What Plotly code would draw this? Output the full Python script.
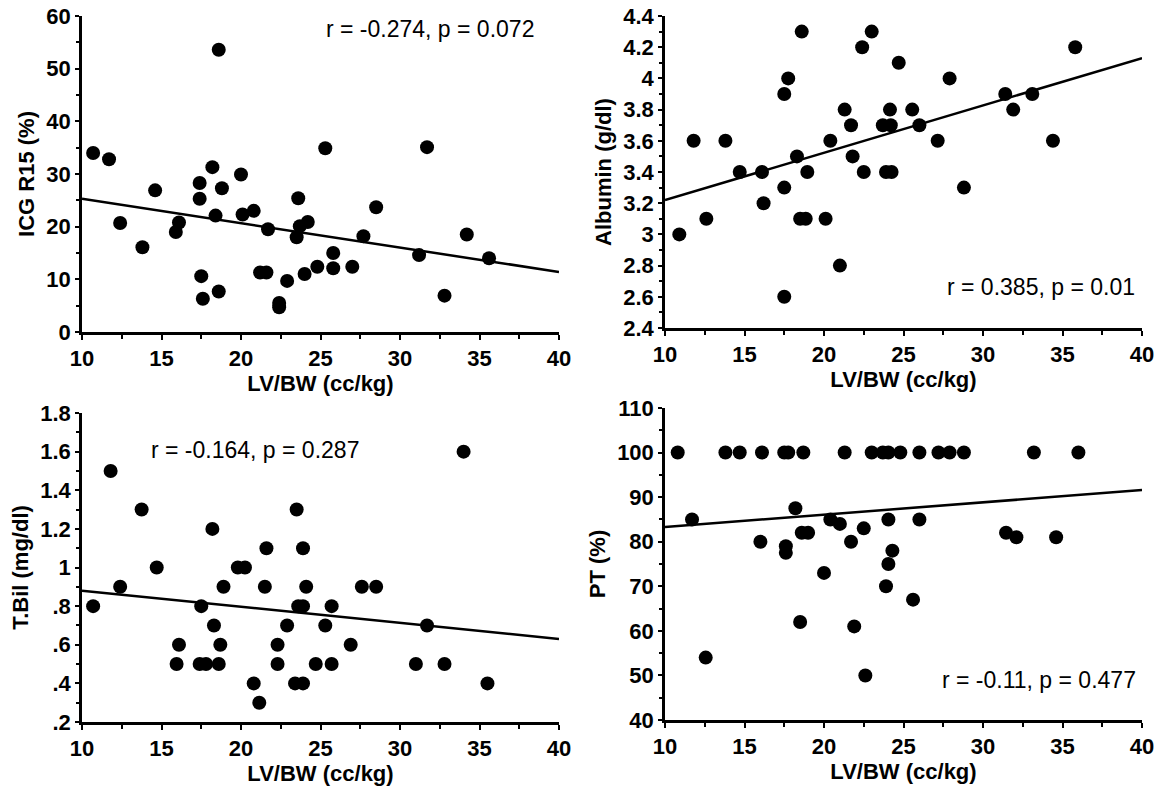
import plotly.graph_objects as go

# LV/BW (cc/kg) vs ICG R15 (%)
icg_x = [10.7, 11.7, 12.4, 13.8, 14.6, 16.1, 15.9, 17.4, 17.4, 17.5, 17.6, 18.2, 18.6, 18.8,
         18.4, 18.6, 20.0, 20.1, 20.8, 21.7, 21.2, 21.6, 22.4, 22.4, 22.9, 23.6, 23.5, 23.7,
         24.2, 24.0, 24.8, 25.3, 25.8, 25.8, 27.0, 27.7, 28.5, 31.2, 31.7, 32.8, 34.2, 35.6]
icg_y = [34.0, 32.8, 20.7, 16.1, 26.9, 20.8, 19.0, 28.3, 25.3, 10.6, 6.3, 31.3, 53.6, 27.3,
         22.1, 7.7, 29.9, 22.3, 23.0, 19.5, 11.3, 11.3, 5.5, 4.7, 9.7, 25.4, 18.0, 20.1,
         20.9, 11.0, 12.4, 34.9, 15.0, 12.1, 12.4, 18.2, 23.7, 14.6, 35.1, 6.9, 18.5, 14.0]
icg_fit = [25.3, 11.4]

# LV/BW vs Albumin (g/dl)
alb_x = [10.9, 11.8, 12.6, 13.8, 14.7, 16.1, 16.2, 17.5, 17.75, 17.5, 17.5, 18.3, 18.6, 18.95,
         18.5, 18.85, 20.1, 20.4, 21.0, 21.3, 21.7, 21.8, 22.4, 23.0, 22.5, 23.7, 24.2, 23.9,
         24.25, 24.15, 24.7, 25.55, 26.0, 27.9, 27.15, 28.8, 31.4, 31.9, 33.1, 34.4, 35.8]
alb_y = [3.0, 3.6, 3.1, 3.6, 3.4, 3.4, 3.2, 3.9, 4.0, 3.3, 2.6, 3.5, 4.3, 3.4,
         3.1, 3.1, 3.1, 3.6, 2.8, 3.8, 3.7, 3.5, 4.2, 4.3, 3.4, 3.7, 3.7, 3.4,
         3.4, 3.8, 4.1, 3.8, 3.7, 4.0, 3.6, 3.3, 3.9, 3.8, 3.9, 3.6, 4.2]
alb_fit = [3.22, 4.13]

# LV/BW vs T.Bil (mg/dl)
bil_x = [10.7, 11.8, 12.4, 13.75, 14.7, 16.1, 15.95, 17.5, 17.4, 17.8, 18.2, 18.3, 18.7, 18.6,
         18.9, 19.8, 20.25, 20.8, 21.15, 21.6, 21.5, 22.3, 22.3, 22.9, 23.5, 23.9, 24.1, 23.6,
         23.9, 23.4, 23.9, 24.7, 25.3, 25.7, 25.7, 26.9, 27.6, 28.5, 31.0, 31.7, 32.8, 34.0, 35.5]
bil_y = [0.8, 1.5, 0.9, 1.3, 1.0, 0.6, 0.5, 0.8, 0.5, 0.5, 1.2, 0.7, 0.6, 0.5,
         0.9, 1.0, 1.0, 0.4, 0.3, 1.1, 0.9, 0.6, 0.5, 0.7, 1.3, 1.1, 0.9, 0.8,
         0.8, 0.4, 0.4, 0.5, 0.7, 0.8, 0.5, 0.6, 0.9, 0.9, 0.5, 0.7, 0.5, 1.6, 0.4]
bil_fit = [0.88, 0.63]

# LV/BW vs PT (%)
pt_x = [10.8, 11.7, 12.56, 13.8, 14.7, 16.1, 16.0, 17.5, 17.75, 17.6, 17.6, 18.7, 18.2, 18.5,
        18.6, 19.0, 20.0, 20.4, 21.0, 21.3, 21.7, 21.9, 22.5, 22.6, 23.0, 23.7, 24.05, 24.05,
        24.3, 24.05, 23.9, 24.8, 26.0, 27.2, 27.9, 28.8, 33.2, 36.0, 26.0, 25.6, 31.45, 32.1, 34.6]
pt_y = [100, 85, 54, 100, 100, 100, 80, 100, 100, 79, 77.5, 100, 87.5, 62,
        82, 82, 73, 85, 84, 100, 80, 61, 83, 50, 100, 100, 100, 85,
        78, 75, 70, 100, 100, 100, 100, 100, 100, 100, 85, 67, 82, 81, 81]
pt_fit = [83.3, 91.6]

fit_x = [10, 40]

bil_ticks = [0.2, 0.4, 0.6, 0.8, 1.0, 1.2, 1.4, 1.6, 1.8]
bil_labels = [".2", ".4", ".6", ".8", "1", "1.2", "1.4", "1.6", "1.8"]

FONT = "Liberation Sans"

fig = go.Figure()

panels = [
    ("x", "y", icg_x, icg_y, icg_fit),
    ("x2", "y2", alb_x, alb_y, alb_fit),
    ("x3", "y3", bil_x, bil_y, bil_fit),
    ("x4", "y4", pt_x, pt_y, pt_fit),
]
for xa, ya, px, py, pf in panels:
    fig.add_trace(go.Scatter(x=fit_x, y=pf, xaxis=xa, yaxis=ya, mode="lines",
                             line=dict(color="black", width=2.5), showlegend=False))
    fig.add_trace(go.Scatter(x=px, y=py, xaxis=xa, yaxis=ya, mode="markers",
                             marker=dict(color="black", size=14), cliponaxis=False,
                             showlegend=False))

# body margin is removed in the page (see post_script), so pixel = page pixel
W, H = 1169, 791
def xdom(l, r):
    return [l / W, r / W]
def ydom(t, b):
    return [1 - b / H, 1 - t / H]

tickfont = dict(family=FONT, size=22, color="black", weight="bold")
titlefont = dict(family=FONT, size=22, color="black", weight="bold")

def xaxis(dom, anchor):
    return dict(domain=dom, anchor=anchor, range=[10, 40], tick0=10, dtick=5, automargin=False,
                showgrid=False, zeroline=False, showline=True, linecolor="black", linewidth=2.5,
                ticks="outside", ticklen=5, tickwidth=2, tickcolor="black", tickfont=tickfont,
                minor=dict(ticks="outside", dtick=2.5, ticklen=4, tickwidth=1.5, tickcolor="black"),
                title=dict(text="LV/BW (cc/kg)", font=titlefont, standoff=6))

def yaxis(dom, anchor, rng, title, **kw):
    d = dict(domain=dom, anchor=anchor, range=rng, showgrid=False, zeroline=False, automargin=False,
             showline=True, linecolor="black", linewidth=2.5, ticks="outside", ticklen=4,
             tickwidth=2, tickcolor="black", tickfont=tickfont, ticklabeloverflow="allow",
             title=dict(text=title, font=titlefont, standoff=6))
    d.update(kw)
    return d

fig.update_layout(
    width=W, height=H, margin=dict(l=0, r=0, t=0, b=0),
    paper_bgcolor="white", plot_bgcolor="white", showlegend=False,
    xaxis=xaxis(xdom(82, 559), "y"),
    xaxis2=xaxis(xdom(665, 1142), "y2"),
    xaxis3=xaxis(xdom(82, 559), "y3"),
    xaxis4=xaxis(xdom(665, 1142), "y4"),
    yaxis=yaxis(ydom(16, 332), "x", [0, 60], "ICG R15 (%)", tick0=0, dtick=10,
                minor=dict(ticks="outside", dtick=5, ticklen=3, tickcolor="black")),
    yaxis2=yaxis(ydom(16, 328), "x2", [2.4, 4.4], "Albumin (g/dl)", tick0=2.4, dtick=0.2,
                 minor=dict(ticks="outside", dtick=0.1, ticklen=3, tickcolor="black")),
    yaxis3=yaxis(ydom(413, 722), "x3", [0.2, 1.8], "T.Bil (mg/dl)", tickmode="array",
                 tickvals=bil_ticks, ticktext=bil_labels,
                 minor=dict(ticks="outside", dtick=0.1, ticklen=3, tickcolor="black")),
    yaxis4=yaxis(ydom(408, 720), "x4", [40, 110], "PT (%)", tick0=40, dtick=10,
                 minor=dict(ticks="outside", dtick=5, ticklen=3, tickcolor="black")),
)

annfont = dict(family=FONT, size=23, color="black")
fig.add_annotation(x=31.9, y=57.5, xref="x", yref="y", text="r = -0.274, p = 0.072",
                   showarrow=False, font=annfont, xanchor="center")
fig.add_annotation(x=39.7, y=2.66, xref="x2", yref="y2", text="r = 0.385, p = 0.01",
                   showarrow=False, font=annfont, xanchor="right")
fig.add_annotation(x=20.9, y=1.61, xref="x3", yref="y3", text="r = -0.164, p = 0.287",
                   showarrow=False, font=annfont, xanchor="center")
fig.add_annotation(x=39.75, y=49, xref="x4", yref="y4", text="r = -0.11, p = 0.477",
                   showarrow=False, font=annfont, xanchor="right")

fig.write_html("out.html", config={"displayModeBar": False},
               post_script="document.body.style.margin = '0';")
